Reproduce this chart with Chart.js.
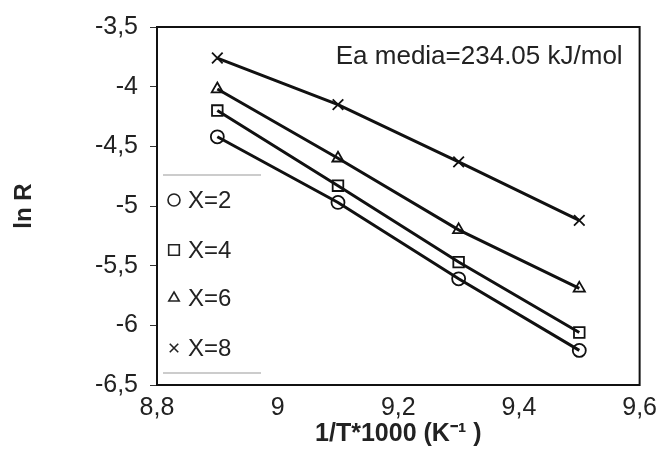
<!DOCTYPE html>
<html>
<head>
<meta charset="utf-8">
<script src="https://cdn.jsdelivr.net/npm/chart.js@4/dist/chart.umd.min.js"></script>
<style>
  html, body { margin: 0; padding: 0; background: #fff; }
  #wrap { width: 665px; height: 464px; }
</style>
</head>
<body>
<div id="wrap"><canvas id="chartArrhenius"></canvas></div>
<script>
// inverse temperature (1/T*1000) and ln R for each X
var invT = [8.9, 9.1, 9.3, 9.5];
var lnR_x2 = [-4.42, -4.97, -5.61, -6.21];
var lnR_x4 = [-4.20, -4.83, -5.47, -6.06];
var lnR_x6 = [-4.02, -4.60, -5.20, -5.69];
var lnR_x8 = [-3.76, -4.15, -4.63, -5.12];
var seriesNames = ['X=2', 'X=4', 'X=6', 'X=8'];
var yTicks = [-3.5, -4, -4.5, -5, -5.5, -6, -6.5];
var xTicks = [8.8, 9, 9.2, 9.4, 9.6];

var styles = ['circle', 'rect', 'triangle', 'crossRot'];
var allY = [lnR_x2, lnR_x4, lnR_x6, lnR_x8];
var FONT = '"Liberation Sans", Arial, sans-serif';

function pts(ys) {
    return invT.map(function (x, i) { return {x: x, y: ys[i]}; });
}
function comma(v) {
    return (Math.round(v * 10) / 10).toString().replace('.', ',');
}

var datasets = allY.map(function (ys, i) {
    return {
        label: seriesNames[i],
        data: pts(ys),
        showLine: true,
        borderColor: '#111',
        borderWidth: 3,
        pointStyle: styles[i],
        pointRadius: styles[i] == 'rect' ? 7.5 : (styles[i] == 'crossRot' ? 7.5 : 6.5),
        pointBorderWidth: 1.8,
        pointBorderColor: '#111',
        pointBackgroundColor: 'rgba(0,0,0,0)',
        tension: 0
    };
});

// frame, annotation and the legend box inside the plot
var extras = {
    id: 'extras',
    afterDraw: function (chart) {
        var c = chart.ctx, a = chart.chartArea;
        c.save();
        c.strokeStyle = '#111';
        c.lineWidth = 2;
        c.strokeRect(a.left, a.top, a.right - a.left, a.bottom - a.top);

        c.fillStyle = '#222';
        c.font = '26px ' + FONT;
        c.textAlign = 'right';
        c.textBaseline = 'middle';
        c.fillText('Ea media=234.05 kJ/mol', a.right - 17, 57);

        // legend
        c.strokeStyle = '#999';
        c.lineWidth = 1;
        c.beginPath();
        c.moveTo(a.left + 6, 175); c.lineTo(a.left + 104, 175);
        c.moveTo(a.left + 6, 373); c.lineTo(a.left + 104, 373);
        c.stroke();
        c.textAlign = 'left';
        c.font = '24px ' + FONT;
        var rows = [200, 250, 298, 348];
        seriesNames.forEach(function (name, i) {
            c.strokeStyle = '#222';
            c.fillStyle = 'rgba(0,0,0,0)';
            c.lineWidth = 1.6;
            var r = styles[i] == 'rect' ? 7.5 : 6;
            Chart.helpers.drawPoint(c, {pointStyle: styles[i], radius: r, rotation: 0, borderWidth: 1.6}, a.left + 17, rows[i]);
            c.fillStyle = '#222';
            c.fillText(name, a.left + 31, rows[i] + 1);
        });
        c.restore();
    }
};

var ctx = document.getElementById('chartArrhenius').getContext('2d');
var chart = new Chart(ctx, {
    type: 'scatter',
    data: { datasets: datasets },
    plugins: [extras],
    options: {
        responsive: true,
        maintainAspectRatio: false,
        animation: false,
        layout: { padding: { top: 26, right: 24, bottom: 15, left: 10 } },
        plugins: { legend: { display: false }, tooltip: { enabled: false } },
        scales: {
            x: {
                type: 'linear',
                min: 8.8, max: 9.6,
                afterBuildTicks: function (s) { s.ticks = xTicks.map(function (v) { return {value: v}; }); },
                afterFit: function (s) { s.height = 64; },
                grid: { display: false, drawTicks: false },
                border: { display: false },
                ticks: {
                    color: '#222',
                    padding: 8,
                    maxRotation: 0,
                    font: { family: FONT, size: 25 },
                    callback: function (v) { return comma(v); }
                },
                title: {
                    display: true,
                    text: '1/T*1000 (K\u207B\u00B9 )',
                    color: '#222',
                    padding: { top: 0, bottom: 0 },
                    font: { family: FONT, size: 25, weight: 'bold' }
                }
            },
            y: {
                min: -6.5, max: -3.5,
                afterBuildTicks: function (s) { s.ticks = yTicks.map(function (v) { return {value: v}; }); },
                afterFit: function (s) { s.width = 147; },
                grid: { display: true, drawOnChartArea: false, drawTicks: true, tickLength: 7, color: '#333' },
                border: { display: false },
                ticks: {
                    color: '#222',
                    padding: 12,
                    font: { family: FONT, size: 25 },
                    callback: function (v) { return comma(v); }
                },
                title: {
                    display: true,
                    text: 'ln R',
                    color: '#222',
                    padding: { top: 0, bottom: 0 },
                    font: { family: FONT, size: 24, weight: 'bold' }
                }
            }
        }
    }
});
</script>
</body>
</html>
